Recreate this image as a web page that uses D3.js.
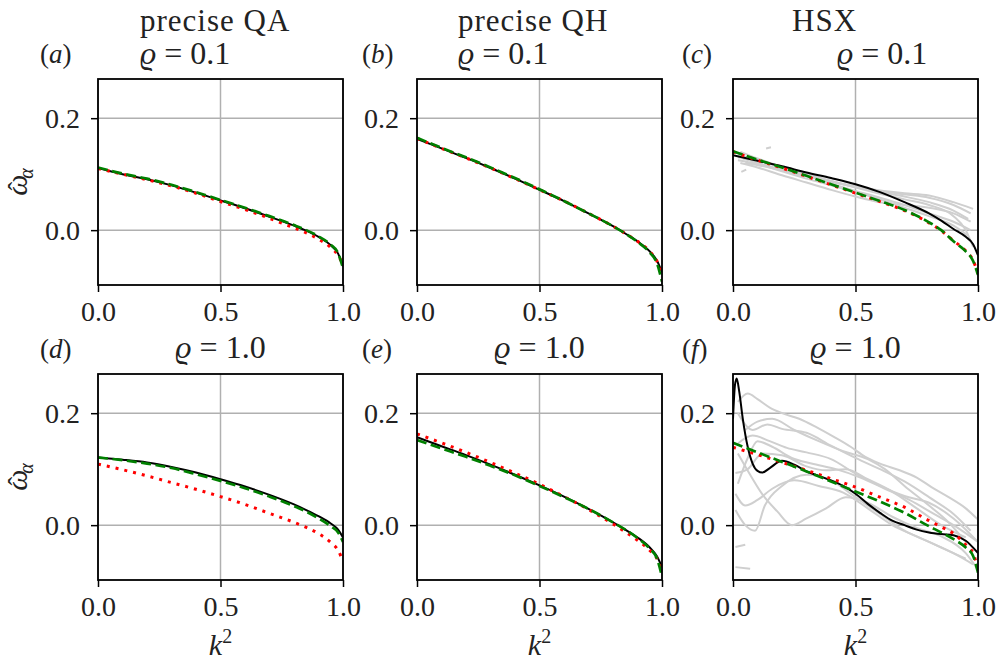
<!DOCTYPE html>
<html lang="en">
  <head>
    <meta charset="utf-8">
    <title>omega hat alpha</title>
    <script src="https://cdn.jsdelivr.net/npm/d3@7/dist/d3.min.js" charset="utf-8"></script>
    <style type="text/css">
      body { margin:0; background:#fff; }
      svg text { font-family: "Liberation Serif", "DejaVu Serif", serif; fill:#222; }
      .tick text { font-size:28px; }
      .tick line { stroke:#000; stroke-width:1.5px; }
    </style>
  </head>
  <body>
    <div id="main"></div>
<script type="text/javascript">

// shared k^2 grid for the smooth curves
var kGrid = [0, 0.1, 0.2, 0.3, 0.4, 0.5, 0.6, 0.7, 0.8, 0.85, 0.9, 0.95, 0.98, 1.0]
var xTicks = [0, 0.5, 1.0]
var yTicks = [0, 0.2]

// (a) precise QA, rho = 0.1
var aBlack = [0.111,0.100,0.091,0.080,0.067,0.053,0.039,0.024,0.008,-0.001,-0.012,-0.027,-0.042,-0.065]
var aGreen = [0.112,0.101,0.092,0.081,0.068,0.054,0.040,0.025,0.009,0.000,-0.011,-0.026,-0.041,-0.068]
var aRed   = [0.110,0.100,0.090,0.079,0.066,0.051,0.037,0.021,0.004,-0.005,-0.016,-0.031,-0.045,-0.062]

// (b) precise QH, rho = 0.1
var bBlack = [0.163,0.146,0.129,0.111,0.092,0.072,0.052,0.030,0.007,-0.006,-0.020,-0.038,-0.055,-0.075]
var bGreen = [0.165,0.147,0.130,0.112,0.093,0.073,0.052,0.030,0.007,-0.006,-0.021,-0.040,-0.060,-0.092]
var bRed   = [0.164,0.146,0.129,0.111,0.092,0.072,0.052,0.030,0.007,-0.006,-0.020,-0.038,-0.056,-0.078]

// (c) HSX, rho = 0.1
var cBlack = [0.134,0.124,0.114,0.103,0.093,0.082,0.068,0.050,0.030,0.017,0.002,-0.012,-0.025,-0.045]
var cGreen = [0.141,0.126,0.112,0.097,0.082,0.067,0.052,0.036,0.014,0.000,-0.020,-0.038,-0.055,-0.080]
var cRed   = [0.140,0.125,0.111,0.096,0.081,0.066,0.051,0.035,0.013,-0.001,-0.019,-0.037,-0.054,-0.078]
var cGrey = [
  [[0.02,0.130],[0.1,0.125],[0.2,0.112],[0.3,0.100],[0.4,0.088],[0.5,0.078],[0.6,0.068],[0.7,0.060],[0.8,0.050],[0.9,0.035],[0.96,0.020]],
  [[0.02,0.125],[0.1,0.118],[0.2,0.105],[0.3,0.092],[0.4,0.080],[0.5,0.068],[0.6,0.055],[0.7,0.040],[0.8,0.025],[0.9,0.008],[0.96,-0.010]],
  [[0.03,0.140],[0.1,0.128],[0.2,0.113],[0.3,0.098],[0.4,0.083],[0.5,0.070],[0.6,0.058],[0.7,0.045],[0.8,0.030],[0.9,0.015],[0.97,0.000]],
  [[0.03,0.120],[0.1,0.112],[0.2,0.098],[0.3,0.085],[0.4,0.072],[0.5,0.060],[0.6,0.050],[0.7,0.045],[0.8,0.040],[0.9,0.030],[0.97,0.015]],
  [[0.02,0.135],[0.1,0.125],[0.2,0.113],[0.3,0.100],[0.4,0.088],[0.5,0.076],[0.6,0.065],[0.7,0.055],[0.8,0.045],[0.9,0.025],[0.95,0.000],[0.98,-0.030]],
  [[0.05,0.120],[0.15,0.112],[0.3,0.097],[0.45,0.082],[0.6,0.070],[0.7,0.064],[0.8,0.058],[0.9,0.045],[0.97,0.030]],
  [[0.04,0.128],[0.2,0.108],[0.4,0.086],[0.55,0.074],[0.7,0.066],[0.8,0.062],[0.9,0.050],[0.98,0.038]],
  [[0.135,0.146],[0.155,0.148]],
  [[0.034,0.104],[0.054,0.108]]
]

// (d) precise QA, rho = 1.0
var dBlack = [0.121,0.117,0.112,0.104,0.094,0.082,0.069,0.054,0.037,0.027,0.016,0.003,-0.008,-0.022]
var dGreen = [0.121,0.116,0.110,0.102,0.091,0.079,0.066,0.051,0.034,0.024,0.012,-0.002,-0.013,-0.030]
var dRed   = [0.109,0.099,0.088,0.076,0.064,0.051,0.037,0.021,0.005,-0.004,-0.015,-0.031,-0.045,-0.065]

// (e) precise QH, rho = 1.0
var eBlack = [0.157,0.141,0.125,0.108,0.090,0.071,0.051,0.029,0.005,-0.008,-0.022,-0.040,-0.056,-0.075]
var eGreen = [0.152,0.137,0.122,0.106,0.089,0.070,0.050,0.029,0.005,-0.008,-0.023,-0.042,-0.060,-0.092]
var eRed   = [0.163,0.147,0.130,0.112,0.093,0.073,0.051,0.028,0.002,-0.012,-0.027,-0.045,-0.060,-0.080]

// (f) HSX, rho = 1.0
var fK     = [0,0.008,0.015,0.025,0.04,0.06,0.08,0.1,0.12,0.15,0.2,0.25,0.3,0.35,0.4,0.45,0.5,0.55,0.6,0.65,0.7,0.75,0.8,0.85,0.9,0.95,1.0]
var fBlack = [0.19,0.25,0.262,0.24,0.19,0.14,0.11,0.097,0.094,0.102,0.115,0.108,0.096,0.088,0.080,0.070,0.056,0.038,0.022,0.008,0.000,-0.008,-0.013,-0.016,-0.018,-0.028,-0.05]
var fGreen = [0.147,0.130,0.113,0.096,0.078,0.060,0.042,0.022,-0.002,-0.013,-0.025,-0.040,-0.055,-0.085]
var fRed   = [0.139,0.126,0.112,0.098,0.083,0.068,0.050,0.032,0.008,-0.003,-0.015,-0.035,-0.050,-0.080]
var fGrey = [
  [[0.02,0.22],[0.06,0.235],[0.1,0.225],[0.15,0.21],[0.2,0.2],[0.27,0.19],[0.34,0.175],[0.41,0.158],[0.48,0.14],[0.54,0.122],[0.6,0.11],[0.68,0.098],[0.75,0.085],[0.81,0.068],[0.88,0.05],[0.95,0.03],[1.0,0.01]],
  [[0.02,0.2],[0.08,0.17],[0.14,0.18],[0.2,0.172],[0.3,0.165],[0.4,0.142],[0.5,0.12],[0.6,0.1],[0.7,0.078],[0.8,0.05],[0.9,0.02],[0.97,-0.01]],
  [[0.02,0.146],[0.08,0.16],[0.15,0.15],[0.22,0.138],[0.3,0.13],[0.4,0.118],[0.5,0.092],[0.6,0.07],[0.7,0.052],[0.8,0.04],[0.9,0.012],[1.0,-0.03]],
  [[0.01,0.093],[0.06,0.1],[0.12,0.128],[0.2,0.125],[0.3,0.105],[0.38,0.098],[0.46,0.1],[0.55,0.082],[0.65,0.06],[0.75,0.03],[0.85,0.0],[0.95,-0.022]],
  [[0.01,0.056],[0.05,0.035],[0.1,0.045],[0.16,0.065],[0.25,0.08],[0.35,0.07],[0.45,0.058],[0.55,0.03],[0.65,0.0],[0.75,-0.02],[0.85,-0.04],[0.95,-0.06]],
  [[0.01,0.027],[0.05,0.0],[0.09,-0.01],[0.13,0.035],[0.2,0.07],[0.3,0.09],[0.4,0.08],[0.5,0.05],[0.6,0.02],[0.7,-0.01],[0.8,-0.03],[0.9,-0.05],[0.98,-0.07]],
  [[0.02,0.128],[0.07,0.09],[0.12,0.055],[0.18,0.025],[0.24,0.0],[0.3,0.012],[0.38,0.03],[0.46,0.05],[0.55,0.04],[0.65,0.015],[0.75,-0.005],[0.85,-0.02],[0.95,-0.05],[1.0,-0.08]],
  [[0.02,0.074],[0.06,0.12],[0.1,0.15],[0.16,0.14],[0.24,0.12],[0.32,0.11],[0.42,0.1],[0.52,0.085],[0.62,0.065],[0.72,0.045],[0.82,0.02],[0.9,0.0],[1.0,-0.03]],
  [[0.05,0.17],[0.1,0.185],[0.16,0.19],[0.25,0.17],[0.35,0.15],[0.45,0.132],[0.55,0.118],[0.62,0.1],[0.7,0.07],[0.8,0.035],[0.88,0.005],[0.95,-0.03]],
  [[0.01,-0.039],[0.05,-0.035]],
  [[0.01,-0.075],[0.07,-0.078]]
]

var panels = [
  {id:"a", col:0, row:0, head:"precise QA", rho:"0.1", black:aBlack, green:aGreen, red:aRed, grey:[]},
  {id:"b", col:1, row:0, head:"precise QH", rho:"0.1", black:bBlack, green:bGreen, red:bRed, grey:[]},
  {id:"c", col:2, row:0, head:"HSX",        rho:"0.1", black:cBlack, green:cGreen, red:cRed, grey:cGrey},
  {id:"d", col:0, row:1, head:null,         rho:"1.0", black:dBlack, green:dGreen, red:dRed, grey:[]},
  {id:"e", col:1, row:1, head:null,         rho:"1.0", black:eBlack, green:eGreen, red:eRed, grey:[]},
  {id:"f", col:2, row:1, head:null,         rho:"1.0", black:fBlack, blackK:fK, green:fGreen, red:fRed, grey:fGrey}
]

var colX = [98, 417, 733], colW = 245
var rowY = [79, 374], rowH = 206
var labelX = [40, 362, 682]
var headX = [[140,140],[458,458],[792,837]]
var serif = '"Liberation Serif", "DejaVu Serif", serif'

var svg = d3.select("#main").append("svg").attr("width",1004).attr("height",660)
  .style("font-family",serif)

var x = d3.scaleLinear().domain([0,1]).range([0,colW])
var y = d3.scaleLinear().domain([-0.098,0.27]).range([rowH,0])

var line = d3.line().x(function(d){return x(d[0])}).y(function(d){return y(d[1])}).curve(d3.curveMonotoneX)

function rhoText(sel, val){
  sel.append("tspan").style("font-style","italic").text("\u03F1")
  sel.append("tspan").text(" = " + val)
}

panels.forEach(function(p){
  var g = svg.append("g").attr("transform","translate("+colX[p.col]+","+rowY[p.row]+")")

  g.append("clipPath").attr("id","clip-"+p.id).append("rect").attr("width",colW).attr("height",rowH)

  // grid
  g.selectAll("line.gx").data(xTicks).enter().append("line")
    .attr("x1",x).attr("x2",x).attr("y1",0).attr("y2",rowH)
    .attr("stroke","#b0b0b0").attr("stroke-width",1.5)
  g.selectAll("line.gy").data(yTicks).enter().append("line")
    .attr("y1",y).attr("y2",y).attr("x1",0).attr("x2",colW)
    .attr("stroke","#b0b0b0").attr("stroke-width",1.5)

  var plot = g.append("g").attr("clip-path","url(#clip-"+p.id+")")

  p.grey.forEach(function(s){
    plot.append("path").attr("d",line(s)).attr("fill","none")
      .attr("stroke","#cfcfcf").attr("stroke-width",2)
  })

  var bk = p.blackK || kGrid
  plot.append("path").attr("d",line(bk.map(function(k,i){return [k,p.black[i]]})))
    .attr("fill","none").attr("stroke","#000").attr("stroke-width",2)
  plot.append("path").attr("d",line(kGrid.map(function(k,i){return [k,p.red[i]]})))
    .attr("fill","none").attr("stroke","#ff0000").attr("stroke-width",3).attr("stroke-dasharray","3,6")
  plot.append("path").attr("d",line(kGrid.map(function(k,i){return [k,p.green[i]]})))
    .attr("fill","none").attr("stroke","#008000").attr("stroke-width",2.7).attr("stroke-dasharray","10,4.5")

  // spines
  g.append("rect").attr("width",colW).attr("height",rowH)
    .attr("fill","none").attr("stroke","#000").attr("stroke-width",1.8)

  var xa = g.append("g").attr("transform","translate(0,"+rowH+")")
    .call(d3.axisBottom(x).tickValues(xTicks).tickFormat(d3.format(".1f")).tickSize(7).tickPadding(9))
  xa.select(".domain").remove()
  var ya = g.append("g")
    .call(d3.axisLeft(y).tickValues(yTicks).tickFormat(d3.format(".1f")).tickSize(7).tickPadding(11))
  ya.select(".domain").remove()
  g.selectAll("g").attr("font-family",serif).attr("font-size",28)
  g.selectAll(".tick text").attr("fill","#222").style("font-family",serif)

  // panel label
  var lab = svg.append("text").attr("x",labelX[p.col]).attr("y",rowY[p.row]-16).style("font-size","27px")
  lab.append("tspan").text("(")
  lab.append("tspan").style("font-style","italic").text(p.id)
  lab.append("tspan").text(")")

  // titles, two left-aligned lines on the top row
  if (p.head){
    svg.append("text").attr("x",headX[p.col][0]).attr("y",31).style("font-size","31px")
      .style("letter-spacing","1px").text(p.head)
    var t = svg.append("text").attr("x",headX[p.col][1]).attr("y",64).style("font-size","32px")
    rhoText(t, p.rho)
  } else {
    var t2 = svg.append("text").attr("x",colX[p.col]+colW/2).attr("y",rowY[p.row]-16)
      .attr("text-anchor","middle").style("font-size","32px")
    rhoText(t2, p.rho)
  }

  if (p.row==1){
    var xl = svg.append("text").attr("x",colX[p.col]+colW/2).attr("y",655)
      .attr("text-anchor","middle").style("font-size","30px")
    xl.append("tspan").style("font-style","italic").text("k")
    xl.append("tspan").attr("dy",-12).style("font-size","20px").text("2")
  }

  if (p.col==0){
    var cy = rowY[p.row] + 103
    var yl = svg.append("text").attr("transform","translate(27,"+cy+") rotate(-90)")
      .attr("text-anchor","middle").style("font-size","30px").style("font-style","italic")
    yl.append("tspan").text("\u03C9")
    yl.append("tspan").attr("dx",-16).attr("dy",-1).style("font-size","26px").style("font-style","normal").text("\u02C6")
    yl.append("tspan").attr("dx",3).attr("dy",7).style("font-size","20px").text("\u03B1")
  }
})

</script>
  </body>
</html>
